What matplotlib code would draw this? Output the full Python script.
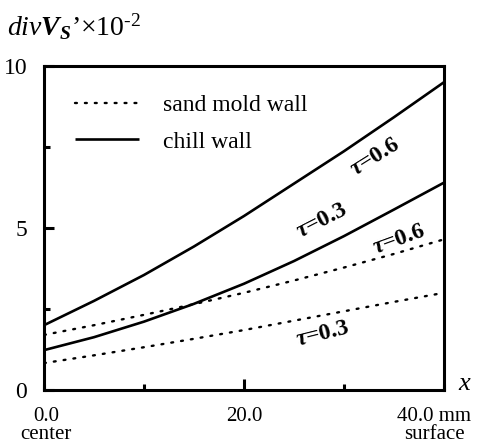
import matplotlib
matplotlib.use("Agg")
import matplotlib.pyplot as plt
from matplotlib.lines import Line2D
import matplotlib.transforms as mtransforms

plt.rcParams['font.family'] = ['Liberation Serif', 'DejaVu Serif']
plt.rcParams['mathtext.fontset'] = 'custom'
plt.rcParams['mathtext.rm'] = 'Liberation Serif'
plt.rcParams['mathtext.it'] = 'Liberation Serif:italic'
plt.rcParams['mathtext.bf'] = 'Liberation Serif:bold'
plt.rcParams['mathtext.bfit'] = 'Liberation Serif:bold:italic'

# data (x in mm, value x10^-2)
x_pts = [0, 5, 10, 15, 20, 25, 30, 35, 40]
chill_06 = [2.0, 2.75, 3.55, 4.43, 5.37, 6.37, 7.37, 8.42, 9.5]
chill_03 = [1.23, 1.63, 2.11, 2.66, 3.28, 3.98, 4.75, 5.57, 6.4]
sand_06 = [1.7, 2.0, 2.32, 2.65, 3.0, 3.38, 3.78, 4.2, 4.65]
sand_03 = [0.83, 1.07, 1.32, 1.58, 1.85, 2.14, 2.43, 2.72, 3.0]

legend_labels = ["sand mold wall", "chill wall"]
curve_labels = [r"$\mathbfit{\tau}$=0.6", r"$\mathbfit{\tau}$=0.3",
                r"$\mathbfit{\tau}$=0.6", r"$\mathbfit{\tau}$=0.3"]
label_pos = [(33.1, 7.2), (27.8, 5.22), (35.5, 4.65), (27.9, 1.72)]
label_rot = [32, 27, 20, 14]
x_label_pos = [0.2, 20, 39.0]
x_label_text = ["0.0\ncenter", "20.0", "40.0 mm\nsurface"]

fig = plt.figure(figsize=(4.81, 4.44), dpi=100)
ax = fig.add_axes([44/481, 54/444, 400/481, 324/444])

solid_kw = dict(color='black', lw=1.9, solid_capstyle='butt', solid_joinstyle='round')
dot_kw = dict(color='black', lw=1.7, linestyle=(0, (0.8, 3.4)), dash_capstyle='round')
ax.plot(x_pts, chill_06, **solid_kw)
ax.plot(x_pts, chill_03, **solid_kw)
ax.plot(x_pts, sand_06, **dot_kw)
ax.plot(x_pts, sand_03, **dot_kw)

ax.set_xlim(0, 40)
ax.set_ylim(0, 10)

for s in ax.spines.values():
    s.set_linewidth(2.2)

ax.set_xticks([0, 10, 20, 30, 40])
ax.set_xticklabels([])
ax.set_yticks([0, 5, 10])
ax.set_yticklabels(["0", "5", "10"], fontsize=17)
ax.set_yticks([2.5, 7.5], minor=True)
ax.tick_params(axis='y', which='major', direction='in', length=7, width=2.2, pad=12)
ax.tick_params(axis='y', which='minor', direction='in', length=4, width=2.2)
ax.tick_params(axis='x', which='major', direction='in', length=4, width=2.2)
ax.xaxis.get_major_ticks()[2].tick1line.set_markersize(8)

trans = mtransforms.blended_transform_factory(ax.transData, fig.transFigure)
for xp, t in zip(x_label_pos, x_label_text):
    ax.text(xp, 1 - 407/444, t, transform=trans, ha='center', va='top', fontsize=15,
            linespacing=0.92, multialignment='center')
ax.text(41.4, 1 - 390/444, "x", transform=trans, ha='left', va='baseline', fontsize=19,
        style='italic')

fig.text(7/481, 1 - 36/444,
         r"$\mathit{div}\mathbfit{V}_{\mathbfit{S}}$’×10$^{\text{-}2}$",
         fontsize=20, ha='left', va='baseline')

handles = [Line2D([], [], **dot_kw), Line2D([], [], **solid_kw)]
ax.legend(handles, legend_labels, loc='upper left', bbox_to_anchor=(0.055, 0.94),
          frameon=False, fontsize=17, handlelength=2.7, handletextpad=1.0,
          labelspacing=0.62, borderaxespad=0)

for (lx, ly), t, r in zip(label_pos, curve_labels, label_rot):
    ax.text(lx, ly, t, rotation=r, ha='center', va='center', fontsize=17,
            fontweight='bold', rotation_mode='anchor')

fig.savefig("out.png", dpi=100)
